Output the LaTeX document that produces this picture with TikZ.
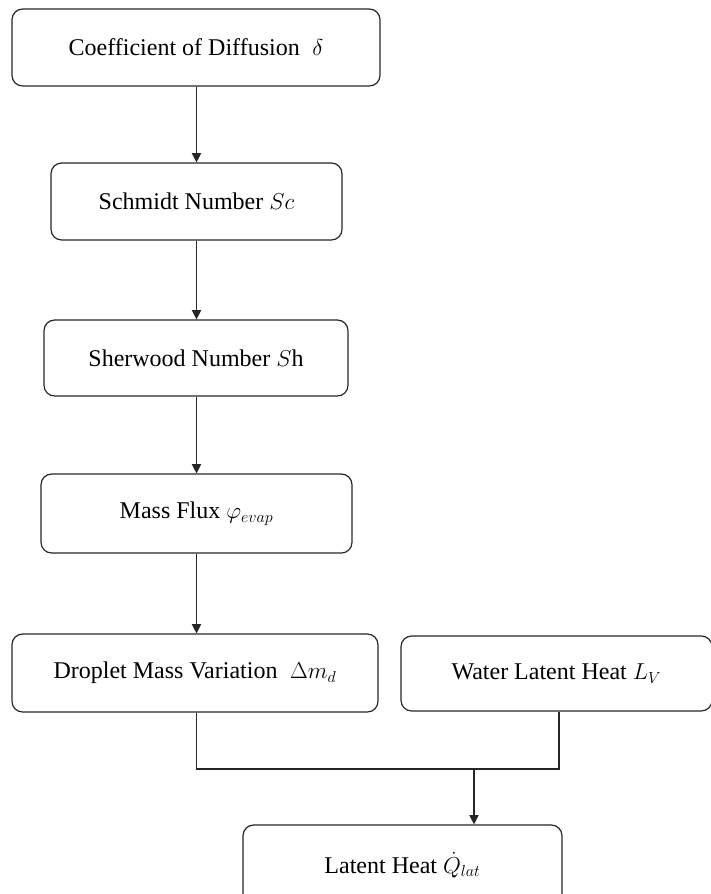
\documentclass[tikz,border=0pt]{standalone}
\usepackage{fontspec}
\setmainfont{Liberation Serif}
\usetikzlibrary{arrows.meta}
\begin{document}
\begin{tikzpicture}[x=0.75pt,y=-0.75pt,
  flowbox/.style={draw=black!85, line width=0.9pt, rounded corners=8pt,
    inner sep=0pt, font=\fontsize{18}{22}\selectfont, text=black},
  link/.style={draw=black!85, line width=0.9pt},
  arr/.style={link, -{Triangle[length=7pt,width=7pt]}}]
\useasboundingbox (0,0) rectangle (711,894);
\clip (0,0) rectangle (711,894);
\node[flowbox, minimum width=368*0.75pt, minimum height=77*0.75pt] (b1) at (196,47.5) {Coefficient of Diffusion\; $\delta$};
\node[flowbox, minimum width=291*0.75pt, minimum height=77*0.75pt] (b2) at (196.5,201.5) {Schmidt Number $Sc$};
\node[flowbox, minimum width=304*0.75pt, minimum height=76*0.75pt] (b3) at (196,358) {Sherwood Number $S$h};
\node[flowbox, minimum width=311*0.75pt, minimum height=79*0.75pt] (b4) at (196.5,513.5) {Mass Flux $\varphi_{evap}$};
\node[flowbox, minimum width=366*0.75pt, minimum height=78*0.75pt] (b5) at (195,673) {Droplet Mass Variation\; $\Delta m_d$};
\node[flowbox, minimum width=311*0.75pt, minimum height=75*0.75pt] (b6) at (556.5,673.5) {Water Latent Heat $L_V$};
\node[flowbox, minimum width=319*0.75pt, minimum height=80*0.75pt] (b7) at (402.5,865) {Latent Heat $\dot{Q}_{lat}$};
\coordinate (ax) at (196.5,0);
\coordinate (jl) at (196.5,769);
\coordinate (jr) at (559,769);
\coordinate (jm) at (474,769);
\draw[arr] (b1.south -| ax) -- (b2.north -| ax);
\draw[arr] (b2.south -| ax) -- (b3.north -| ax);
\draw[arr] (b3.south -| ax) -- (b4.north -| ax);
\draw[arr] (b4.south -| ax) -- (b5.north -| ax);
\draw[link] (b5.south -| jl) -- (jl) -- (jr) -- (b6.south -| jr);
\draw[arr] (jm) -- (b7.north -| jm);
\end{tikzpicture}
\end{document}
